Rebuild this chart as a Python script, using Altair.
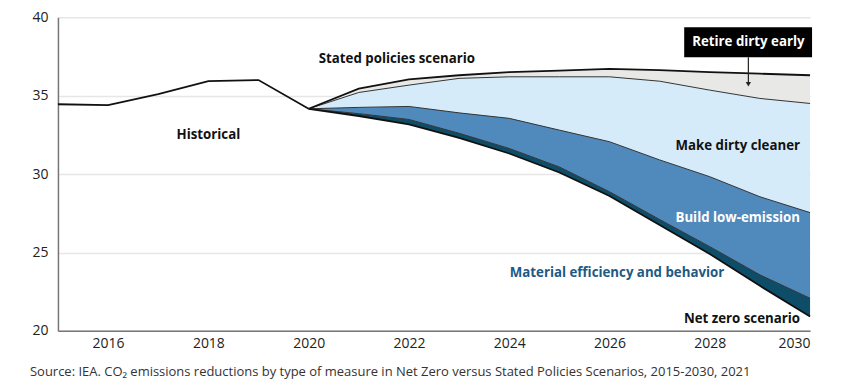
import altair as alt
import pandas as pd

# ---- data ----
hist_years = [2015, 2016, 2017, 2018, 2019, 2020]
historical = [34.45, 34.40, 35.10, 35.92, 35.99, 34.16]

scen_years = [2020, 2021, 2022, 2023, 2024, 2025, 2026, 2027, 2028, 2029, 2030]
stated_policies = [34.16, 35.45, 36.03, 36.30, 36.50, 36.60, 36.71, 36.62, 36.50, 36.40, 36.30]
retire_bottom = [34.16, 35.20, 35.67, 36.10, 36.20, 36.20, 36.20, 35.92, 35.35, 34.82, 34.50]
cleaner_bottom = [34.16, 34.25, 34.31, 33.90, 33.55, 32.80, 32.06, 30.90, 29.83, 28.55, 27.54]
build_bottom = [34.16, 33.85, 33.48, 32.60, 31.63, 30.45, 28.87, 27.10, 25.37, 23.57, 22.08]
net_zero = [34.16, 33.70, 33.17, 32.30, 31.31, 30.10, 28.60, 26.75, 24.90, 22.87, 20.91]

x_ticks = [2016, 2018, 2020, 2022, 2024, 2026, 2028, 2030]
y_ticks = [20, 25, 30, 35, 40]

band_names = ["Retire dirty early", "Make dirty cleaner", "Build low-emission", "Material efficiency and behavior"]
band_colors = ["#e8e8e6", "#d5ebf9", "#5089bb", "#0d4d68"]

label_texts = ["Historical", "Stated policies scenario", "Make dirty cleaner", "Build low-emission",
               "Material efficiency and behavior", "Net zero scenario"]
label_x = [2018.0, 2021.76, 2029.8, 2029.8, 2026.15, 2029.8]
label_y = [32.48, 37.32, 31.78, 27.2, 23.7, 20.76]
label_align = ["center", "center", "right", "right", "center", "right"]
label_color = ["#111111", "#111111", "#111111", "#ffffff", "#1d5a84", "#111111"]

source_text = "Source: IEA. CO\u2082 emissions reductions by type of measure in Net Zero versus Stated Policies Scenarios, 2015-2030, 2021"

FONT = "Open Sans"

# ---- tables ----
tops = [stated_policies, retire_bottom, cleaner_bottom, build_bottom]
bots = [retire_bottom, cleaner_bottom, build_bottom, net_zero]
rows = []
for i, name in enumerate(band_names):
    for j, yr in enumerate(scen_years):
        rows.append({"year": yr, "top": tops[i][j], "bottom": bots[i][j], "band": name, "order": i})
bands = pd.DataFrame(rows)

hist_df = pd.DataFrame({"year": hist_years, "value": historical})
lines_rows = []
for name, arr in [("stated", stated_policies), ("retire", retire_bottom), ("cleaner", cleaner_bottom),
                  ("build", build_bottom), ("netzero", net_zero)]:
    for yr, v in zip(scen_years, arr):
        lines_rows.append({"year": yr, "value": v, "line": name})
lines_df = pd.DataFrame(lines_rows)

labels_df = pd.DataFrame({"text": label_texts, "x": label_x, "y": label_y,
                          "align": label_align, "color": label_color})

xscale = alt.Scale(domain=[2015, 2030], nice=False, zero=False)
yscale = alt.Scale(domain=[20, 40], nice=False, zero=False)

xenc = alt.X("year:Q", scale=xscale,
             axis=alt.Axis(values=x_ticks, format="d", title=None, grid=False, ticks=False,
                           domainColor="#777777", domainWidth=1.5, labelFontSize=14,
                           labelColor="#222222", labelFont=FONT, labelPadding=6))
yaxis = alt.Axis(values=y_ticks, title=None, ticks=False, grid=True, gridColor="#e6e6e6",
                 gridWidth=1.5, domainColor="#777777", domainWidth=1.5, labelFontSize=14,
                 labelColor="#222222", labelFont=FONT, labelPadding=10)

area = alt.Chart(bands).mark_area(opacity=1, interpolate="linear").encode(
    x=xenc,
    y=alt.Y("top:Q", scale=yscale, axis=yaxis),
    y2="bottom:Q",
    color=alt.Color("band:N", scale=alt.Scale(domain=band_names, range=band_colors), legend=None),
    detail="band:N",
)

thin = alt.Chart(lines_df[lines_df["line"].isin(["retire", "cleaner", "build"])]).mark_line(
    color="#333333", strokeWidth=1).encode(
    x=alt.X("year:Q", scale=xscale), y=alt.Y("value:Q", scale=yscale), detail="line:N")

thick = alt.Chart(lines_df[lines_df["line"].isin(["stated", "netzero"])]).mark_line(
    color="#111111", strokeWidth=1.8).encode(
    x=alt.X("year:Q", scale=xscale), y=alt.Y("value:Q", scale=yscale), detail="line:N")

hist = alt.Chart(hist_df).mark_line(color="#111111", strokeWidth=1.8).encode(
    x=alt.X("year:Q", scale=xscale), y=alt.Y("value:Q", scale=yscale))

texts = []
for al in ["center", "right"]:
    sub = labels_df[labels_df["align"] == al]
    texts.append(alt.Chart(sub).mark_text(font=FONT, fontSize=13.3, fontWeight="bold",
                                          align=al, baseline="middle").encode(
        x=alt.X("x:Q", scale=xscale), y=alt.Y("y:Q", scale=yscale),
        text="text:N", color=alt.Color("color:N", scale=None)))

# Retire dirty early callout box
box_df = pd.DataFrame({"x": [2027.49], "x2": [2030.04], "y": [39.36], "y2": [37.45],
                       "cx": [2028.77], "cy": [38.42], "text": ["Retire dirty early"],
                       "ay": [37.45], "ay2": [35.85], "ty": [35.72]})
box = alt.Chart(box_df).mark_rect(color="#000000").encode(
    x=alt.X("x:Q", scale=xscale), x2="x2:Q", y=alt.Y("y:Q", scale=yscale), y2="y2:Q")
box_text = alt.Chart(box_df).mark_text(font=FONT, fontSize=13.3, fontWeight="bold", color="#ffffff",
                                       align="center", baseline="middle").encode(
    x=alt.X("cx:Q", scale=xscale), y=alt.Y("cy:Q", scale=yscale), text="text:N")
arrow = alt.Chart(box_df).mark_rule(color="#222222", strokeWidth=1.2).encode(
    x=alt.X("cx:Q", scale=xscale), y=alt.Y("ay:Q", scale=yscale), y2="ay2:Q")
head = alt.Chart(box_df).mark_point(shape="triangle-down", filled=True, color="#222222",
                                    size=28, opacity=1).encode(
    x=alt.X("cx:Q", scale=xscale), y=alt.Y("ty:Q", scale=yscale))

source = alt.Chart(pd.DataFrame({"t": [source_text]})).mark_text(
    font=FONT, fontSize=13, color="#333333", align="left", baseline="middle").encode(
    x=alt.value(-28), y=alt.value(355), text="t:N")

chart = alt.layer(area, thin, thick, hist, *texts, box, box_text, arrow, head, source).properties(
    width=753, height=314,
    autosize=alt.AutoSizeParams(type="none"),
    padding={"left": 50, "top": 9, "right": 40, "bottom": 50},
).configure_view(stroke=None)

chart.save("out.html", embed_options={"renderer": "svg", "actions": False})
